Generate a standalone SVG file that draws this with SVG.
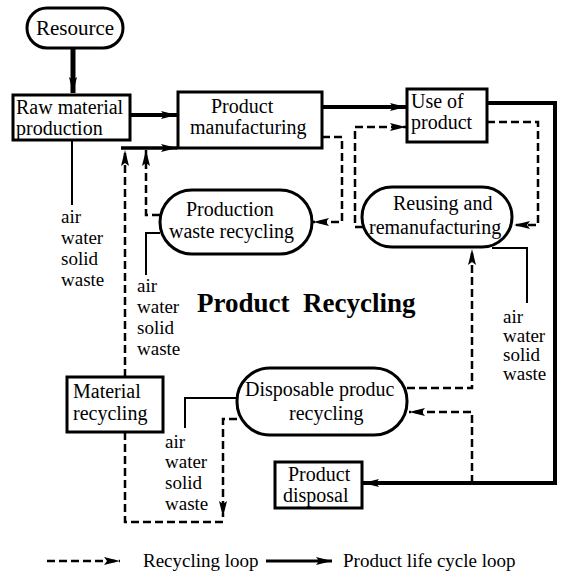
<svg xmlns="http://www.w3.org/2000/svg" width="569" height="583" viewBox="0 0 569 583">
<style>
.box{fill:#fff;stroke:#000;stroke-width:3}
.t{font-family:"Liberation Serif","Times New Roman",serif;font-size:20px;fill:#000}
.s{font-family:"Liberation Serif","Times New Roman",serif;font-size:19px;fill:#000}
.thick{fill:none;stroke:#000;stroke-width:4}
.thin{fill:none;stroke:#000;stroke-width:2}
.dash{fill:none;stroke:#000;stroke-width:2.5;stroke-dasharray:8 4}
</style>
<defs>
<marker id="ah" markerUnits="userSpaceOnUse" markerWidth="18" markerHeight="10" refX="16" refY="5" orient="auto">
<path d="M0,1 L16,5 L0,9 L3,5 z" fill="#000"/>
</marker>
</defs>
<rect width="569" height="583" fill="#fff"/>
<g id="connectors">
<path class="thick" style="stroke-width:5" d="M73,48 V93" marker-end="url(#ah)"/>
<path class="thick" d="M130,115 H177" marker-end="url(#ah)"/>
<path class="thick" d="M322,107 H406" marker-end="url(#ah)"/>
<path class="thick" d="M487,103 H555 V483 H363" marker-end="url(#ah)"/>
<path class="thick" style="stroke-width:3.5" d="M121,148 H177" marker-end="url(#ah)"/>
<path class="dash" d="M125,377 V150" marker-end="url(#ah)"/>
<path class="dash" d="M160,215 H146 V150" marker-end="url(#ah)"/>
<path class="dash" d="M322,137 H342 V222 H313" marker-end="url(#ah)"/>
<path class="thin" d="M160,233 H146 V275"/>
<path class="thin" d="M72,140 V205"/>
<path class="dash" d="M363,227 H355 V127 H406" marker-end="url(#ah)"/>
<path class="dash" d="M487,122 H538 V225 H514" marker-end="url(#ah)"/>
<path class="thin" d="M492,248 H527 V303"/>
<path class="dash" d="M407,388 H472 V249" marker-end="url(#ah)"/>
<path class="dash" d="M472,483 V412 H409" marker-end="url(#ah)"/>
<path class="thin" d="M237,398 H185 V428"/>
<path class="dash" d="M237,419 H223 V517" marker-end="url(#ah)"/>
<path class="dash" d="M125,432 V522 H225"/>
</g>
<g id="resource">
<rect class="box" x="27" y="8" width="96" height="40" rx="20"/>
<text class="t" x="75" y="35" text-anchor="middle" style="font-size:21px">Resource</text>
</g>
<g id="raw-material">
<rect class="box" x="13" y="95" width="117" height="45"/>
<text class="t" x="16" y="114">Raw material</text>
<text class="t" x="16" y="135">production</text>
</g>
<g id="product-manufacturing">
<rect class="box" x="178" y="92" width="144" height="56"/>
<text class="t" x="211" y="113">Product</text>
<text class="t" x="190" y="134">manufacturing</text>
</g>
<g id="use-of-product">
<rect class="box" x="407" y="89" width="80" height="53"/>
<text class="t" x="411" y="108">Use of</text>
<text class="t" x="411" y="129">product</text>
</g>
<g id="production-waste-recycling">
<rect class="box" x="160" y="190" width="152" height="64" rx="32"/>
<text class="t" x="186" y="216">Production</text>
<text class="t" x="169" y="238">waste recycling</text>
</g>
<g id="reusing">
<rect class="box" x="362" y="187" width="150" height="60" rx="30"/>
<text class="t" x="393" y="210">Reusing and</text>
<text class="t" x="369" y="234">remanufacturing</text>
</g>
<g id="disposable-product-recycling">
<rect class="box" x="237" y="368" width="170" height="67" rx="33"/>
<text class="t" x="245" y="396">Disposable produc</text>
<text class="t" x="289" y="420">recycling</text>
</g>
<g id="material-recycling">
<rect class="box" x="67" y="377" width="96" height="55"/>
<text class="t" x="73" y="398">Material</text>
<text class="t" x="73" y="420">recycling</text>
</g>
<g id="product-disposal">
<rect class="box" x="275" y="462" width="87" height="46"/>
<text class="t" x="288" y="481">Product</text>
<text class="t" x="283" y="502">disposal</text>
</g>
<g id="emissions">
<text class="s" x="61" y="223">air</text>
<text class="s" x="61" y="244">water</text>
<text class="s" x="61" y="265">solid</text>
<text class="s" x="61" y="286">waste</text>
<text class="s" x="137" y="292">air</text>
<text class="s" x="137" y="313">water</text>
<text class="s" x="137" y="334">solid</text>
<text class="s" x="137" y="355">waste</text>
<text class="s" x="165" y="448">air</text>
<text class="s" x="165" y="468">water</text>
<text class="s" x="165" y="489">solid</text>
<text class="s" x="165" y="510">waste</text>
<text class="s" x="503" y="323">air</text>
<text class="s" x="503" y="342">water</text>
<text class="s" x="503" y="361">solid</text>
<text class="s" x="503" y="380">waste</text>
</g>
<text x="197" y="312" xml:space="preserve" style="font-family:'Liberation Serif','Times New Roman',serif;font-size:27px;font-weight:bold">Product  Recycling</text>
<g id="legend">
<path class="dash" d="M47,561 H120" marker-end="url(#ah)"/>
<text class="s" x="143" y="567">Recycling loop</text>
<path class="thick" style="stroke-width:3" d="M266,561 H332" marker-end="url(#ah)"/>
<text class="s" x="343" y="567">Product life cycle loop</text>
</g>
</svg>
